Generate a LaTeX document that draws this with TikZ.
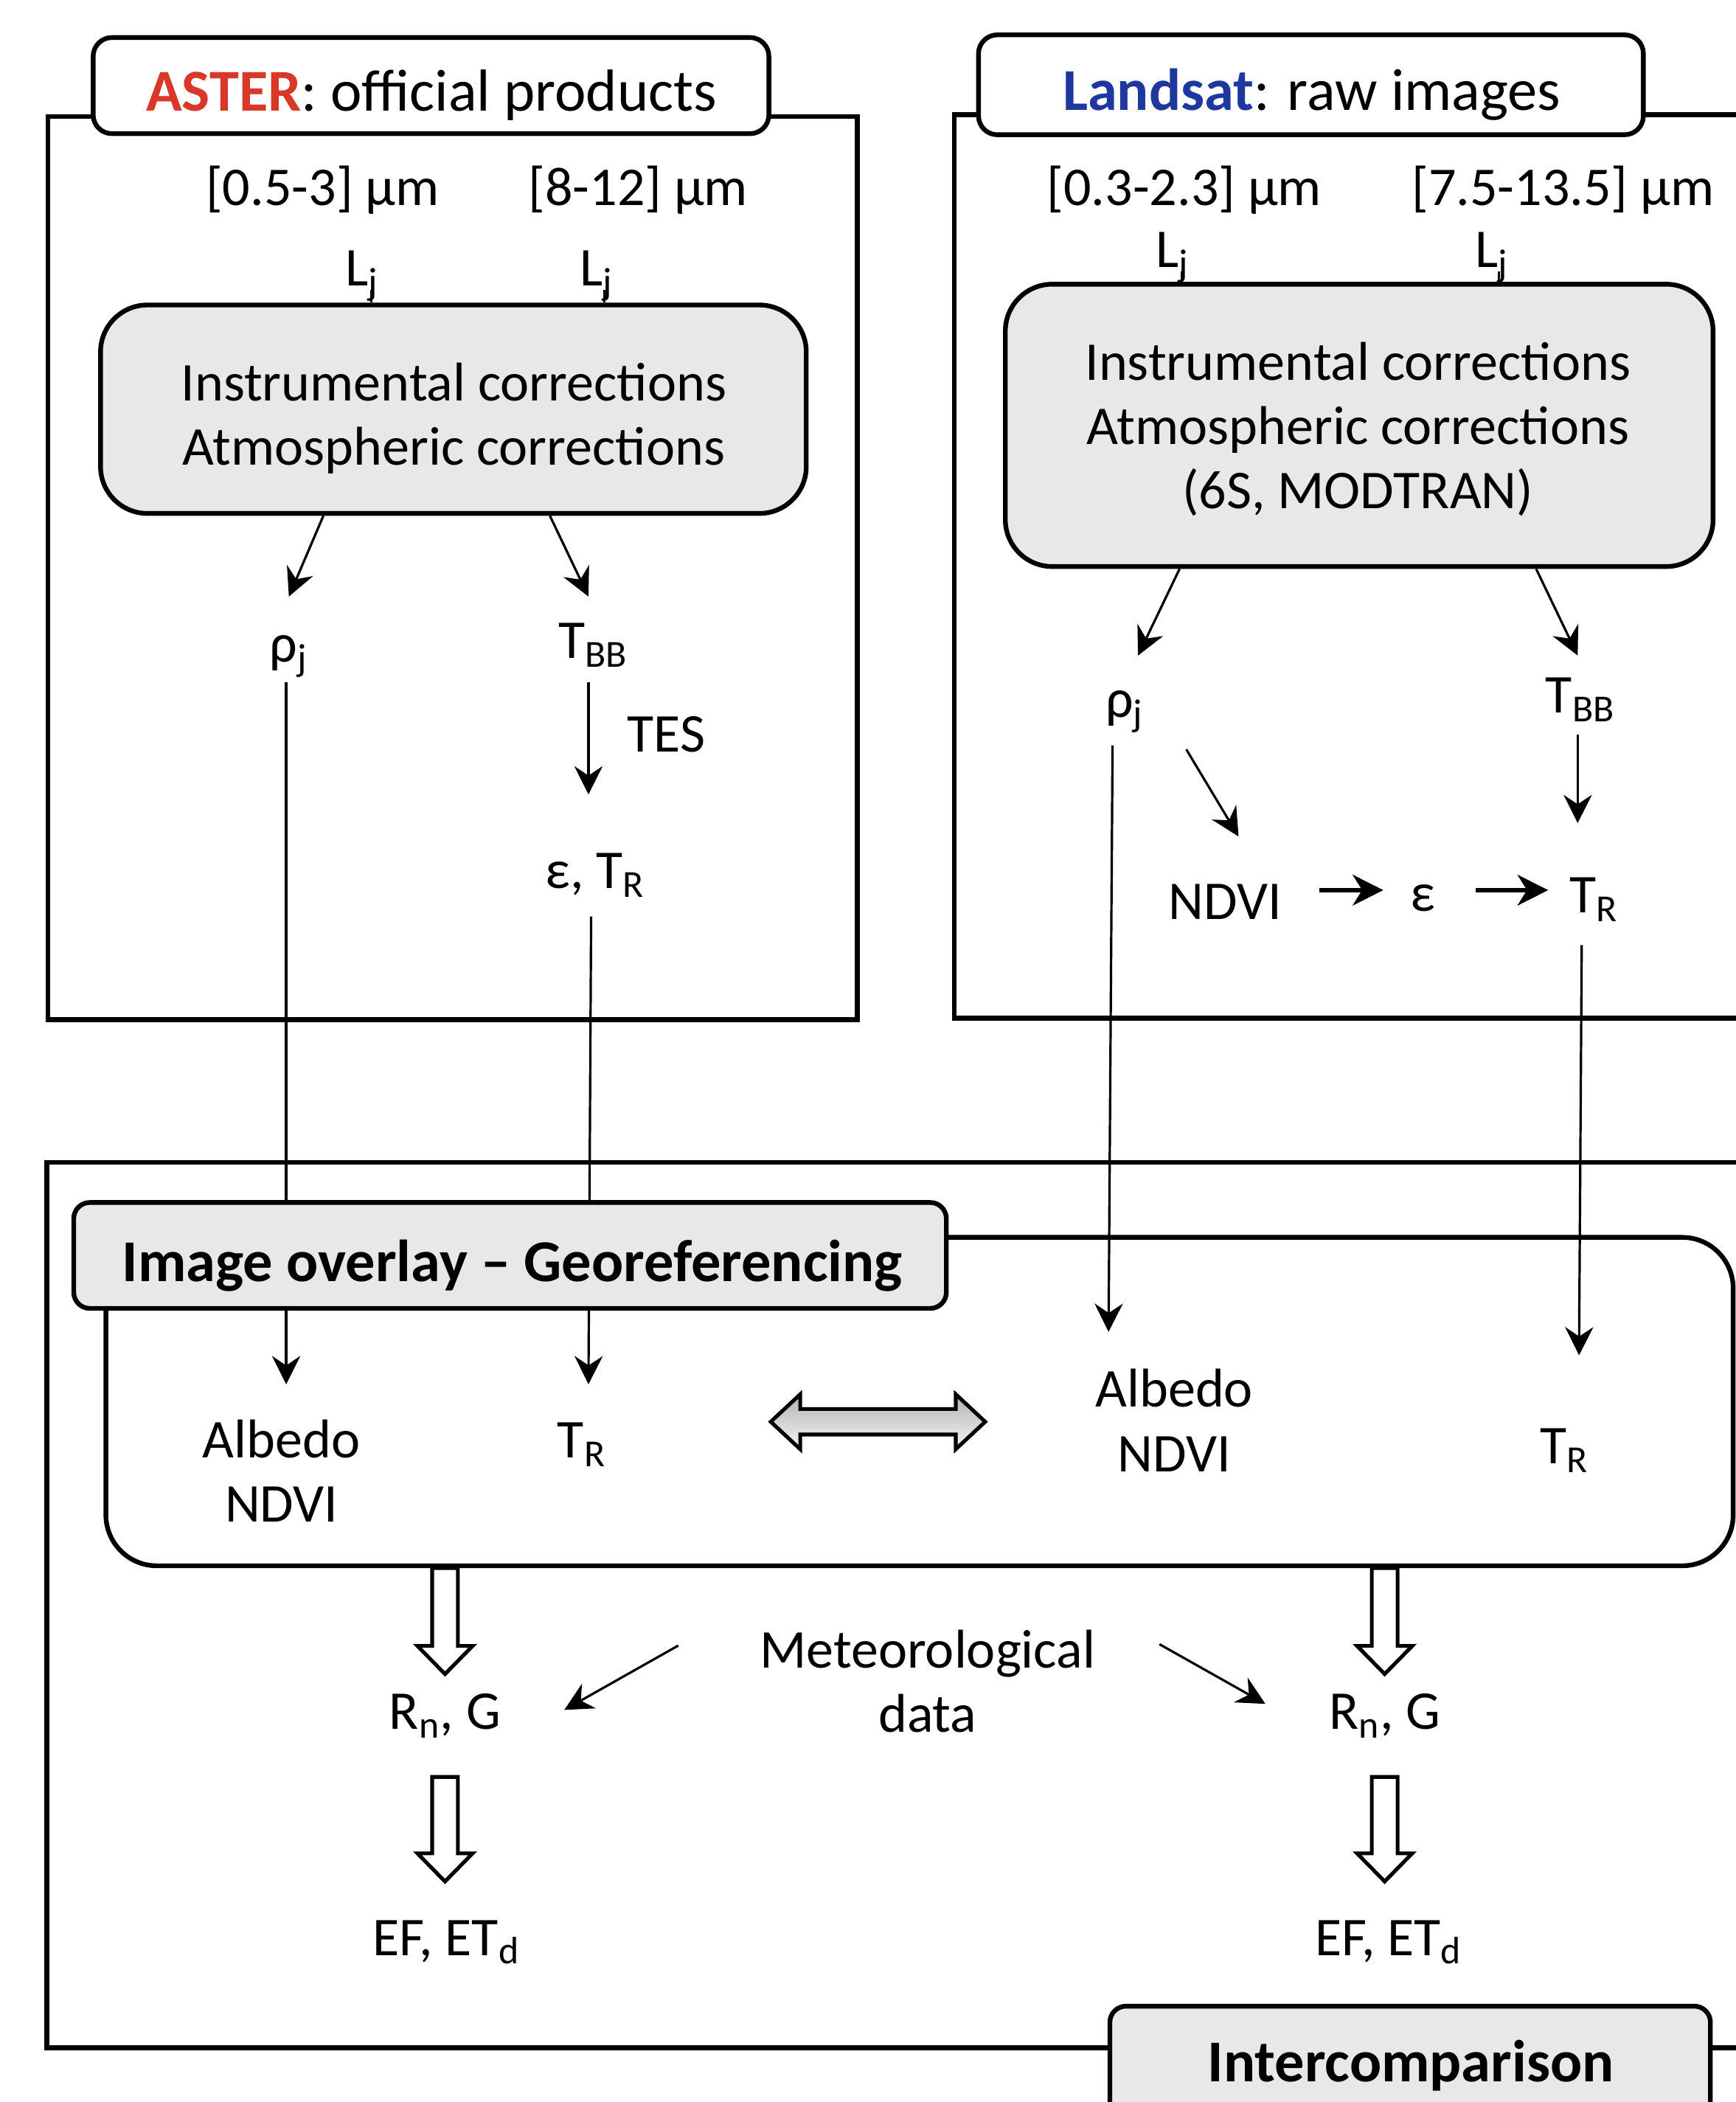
\documentclass[tikz,border=0pt]{standalone}
\usepackage{fontspec}
\setmainfont{Carlito}
\usetikzlibrary{arrows.meta,calc,fit}
\definecolor{asterred}{RGB}{217,56,40}
\definecolor{landblue}{RGB}{31,56,160}
\definecolor{boxgray}{RGB}{232,232,232}
\tikzset{
 txt/.style={inner sep=0pt, font=\fontsize{23.2}{27.3}\selectfont},
 ttl/.style={inner sep=0pt, font=\fontsize{25.2}{29}\selectfont},
 frame/.style={draw, line width=2pt, inner sep=0pt},
 titlebox/.style={draw, line width=2pt, fill=white, rounded corners=0.28cm, inner sep=0pt},
 gbox/.style={draw, line width=2pt, fill=boxgray, rounded corners=0.7cm, inner sep=0pt},
 bigbox/.style={draw, line width=2pt, rounded corners=0.76cm, inner sep=0pt},
 arr/.style={line width=1pt, -{Stealth[length=12pt,width=12pt,inset=4pt]}},
 barr/.style={line width=2pt, -{Stealth[length=13pt,width=13pt,inset=4pt]}},
 thinline/.style={line width=1pt},
 hol/.style={line width=1.6pt, fill=white, line join=miter},
 pics/hollowdown/.style={code={
   \draw[hol] (-9.6,0) -- (-9.6,#1-21) -- (-20.6,#1-21) -- (0,#1) -- (20.6,#1-21) -- (9.6,#1-21) -- (9.6,0) -- cycle;}}
}
\begin{document}
\begin{tikzpicture}[x=0.02cm,y=-0.02cm]
\useasboundingbox (0,0) rectangle (1295,1568);
\clip (0,0) rectangle (1295,1568);
\fill[white] (0,0) rectangle (1295,1568);

% outer frames
\node[frame, fit={(35.7,87) (639.5,760.6)}] (boxA) {};
\node[frame, fit={(712,85.6) (1340,759.5)}] (boxL) {};
\node[frame, fit={(35,867) (1340,1527.5)}] (boxB) {};
\node[bigbox, fit={(79,923) (1293,1168)}] (Big) {};

% title boxes
\node[titlebox, fit={(69.5,28) (573.6,99.7)}] (tbA) {};
\node[ttl, anchor=base] (tA) at (321.9,82.8) {\textbf{\color{asterred}ASTER}: official products};
\node[titlebox, fit={(730,26) (1226,100.5)}] (tbL) {};
\node[ttl, anchor=base] (tL) at (978.5,82) {\textbf{\color{landblue}Landsat}: raw images};

% ASTER part
\node[txt, anchor=base] (wA1) at (240.6,153) {[0.5-3] µm};
\node[txt, anchor=base] (wA2) at (476,153) {[8-12] µm};
\node[txt, anchor=base] (LA1) at (270,213) {L\textsubscript{j}};
\node[txt, anchor=base] (LA2) at (445,213) {L\textsubscript{j}};
\node[gbox, fit={(75,227.5) (601.5,383)}] (Ga) {};
\node[txt, align=center] (GaT) at (338.5,312) {Instrumental corrections\\Atmospheric corrections};
\node[txt, anchor=base] (rho1) at (215.5,494) {ρ\textsubscript{j}};
\node[txt, anchor=base] (TBB1) at (442.5,491) {T\textsubscript{BB}};
\node[txt, anchor=base] (TES) at (497,561) {TES};
\node[txt, anchor=base] (eps1) at (444,662.6) {ε, T\textsubscript{R}};

% Landsat part
\node[txt, anchor=base] (wL1) at (883.5,153) {[0.3-2.3] µm};
\node[txt, anchor=base] (wL2) at (1166,153) {[7.5-13.5] µm};
\node[txt, anchor=base] (LL1) at (875,199.4) {L\textsubscript{j}};
\node[txt, anchor=base] (LL2) at (1113,199.4) {L\textsubscript{j}};
\node[gbox, fit={(750,212) (1278,422.6)}] (Gl) {};
\node[txt, align=center] (GlT) at (1013,320.3) {Instrumental corrections\\Atmospheric corrections\\(6S, MODTRAN)};
\node[txt, anchor=base] (rho2) at (839,535) {ρ\textsubscript{j}};
\node[txt, anchor=base] (TBB2) at (1179,532) {T\textsubscript{BB}};
\node[txt, anchor=base] (NDVI) at (914,686) {NDVI};
\node[txt, anchor=base] (eps2) at (1061.6,680) {ε};
\node[txt, anchor=base] (TR2) at (1189,681) {T\textsubscript{R}};

% bottom part
\node[txt, align=center] (AlbA) at (210,1097.1) {Albedo\\NDVI};
\node[txt, anchor=base] (TRA) at (434,1087.6) {T\textsubscript{R}};
\node[txt, align=center] (AlbL) at (876,1059.5) {Albedo\\NDVI};
\node[txt, anchor=base] (TR3) at (1167,1091.6) {T\textsubscript{R}};
\node[txt, align=center] (Met) at (692,1254.3) {Meteorological\\data};
\node[txt, anchor=base] (RnA) at (332,1290) {R\textsubscript{n}, G};
\node[txt, anchor=base] (RnB) at (1033,1290) {R\textsubscript{n}, G};
\node[txt, anchor=base] (EFA) at (333,1458.5) {EF, ET\textsubscript{d}};
\node[txt, anchor=base] (EFB) at (1036,1458.5) {EF, ET\textsubscript{d}};

% small L_j ticks
\coordinate (cA1) at ($(LA1.base)+(7,3)$);
\coordinate (cA2) at ($(LA2.base)+(6,3)$);
\coordinate (cL1) at ($(LL1.base)+(6.6,3)$);
\coordinate (cL2) at ($(LL2.base)+(5,3)$);
\draw[thinline] (cA1) -- (cA1 |- Ga.north);
\draw[thinline] (cA2) -- (cA2 |- Ga.north);
\draw[thinline] (cL1) -- (cL1 |- Gl.north);
\draw[thinline] (cL2) -- (cL2 |- Gl.north);

% ASTER connectors
\draw[arr] ($(Ga.south)+(-97,0)$) -- ($(rho1.base)+(0,-49)$);
\draw[arr] ($(Ga.south)+(72,0)$) -- ($(TBB1.base)+(-3.5,-46)$);
\draw[arr] ($(TBB1.base)+(-3.5,18)$) -- ($(eps1.base)+(-5,-70)$);
\draw[arr] ($(rho1.base)+(-2,15)$) -- ($(AlbA.center)+(3.5,-64.5)$);
\draw[arr] ($(eps1.base)+(-3,21)$) -- ($(TRA.base)+(5,-55)$);

% Landsat connectors
\draw[arr] ($(Gl.south)+(-134,0)$) -- ($(rho2.base)+(10,-46)$);
\draw[arr] ($(Gl.south)+(132,0)$) -- ($(TBB2.base)+(-2,-43)$);
\draw[arr] ($(rho2.base)+(46,24)$) -- ($(NDVI.base)+(10,-62)$);
\draw[arr] ($(TBB2.base)+(-2,16)$) -- ($(TR2.base)+(-12,-67)$);
\draw[barr] ($(NDVI.base)+(70,-22)$) -- ($(eps2.base)+(-29.6,-16)$);
\draw[barr] ($(eps2.base)+(39.4,-16)$) -- ($(TR2.base)+(-34,-17)$);
\draw[arr] ($(rho2.base)+(-9,21)$) -- ($(AlbL.center)+(-49,-66)$);
\draw[arr] ($(TR2.base)+(-9,24)$) -- ($(TR3.base)+(11,-80.6)$);

% meteorological arrows
\draw[arr] ($(Met.center)+(-186,-26.8)$) -- ($(RnA.base)+(89,-14.5)$);
\draw[arr] ($(Met.center)+(173,-27.8)$) -- ($(RnB.base)+(-89,-19)$);

% Georeferencing box
\node[titlebox, fill=boxgray, rounded corners=0.24cm, fit={(55,897) (706,976)}] (Geo) {};
\node[ttl, anchor=base] (GeoT) at (382.3,956) {\textbf{Image overlay – Georeferencing}};

% Intercomparison box
\node[titlebox, fill=boxgray, rounded corners=0.24cm, fit={(828,1496.5) (1276,1600)}] (Int) {};
\node[ttl, anchor=base] (IntT) at (1052.6,1553) {\textbf{Intercomparison}};

% hollow arrows
\pic at (RnA |- Big.south) {hollowdown=79};
\pic at (RnB |- Big.south) {hollowdown=79};
\pic at ($(RnA.base)+(0,35.5)$) {hollowdown=78};
\pic at ($(RnB.base)+(0,35.5)$) {hollowdown=78};

% double arrow
\coordinate (dbl) at ($(TRA.base)!0.5!(AlbL.center)+(0,-13)$);
\draw[line width=1.6pt, line join=miter, top color=gray!60, bottom color=gray!8, shift={(dbl)}]
  (-80,0) -- (-58,-20.5) -- (-58,-9.5) -- (58,-9.5) -- (58,-20.5) -- (80,0)
  -- (58,20.5) -- (58,9.5) -- (-58,9.5) -- (-58,20.5) -- cycle;
\end{tikzpicture}
\end{document}
